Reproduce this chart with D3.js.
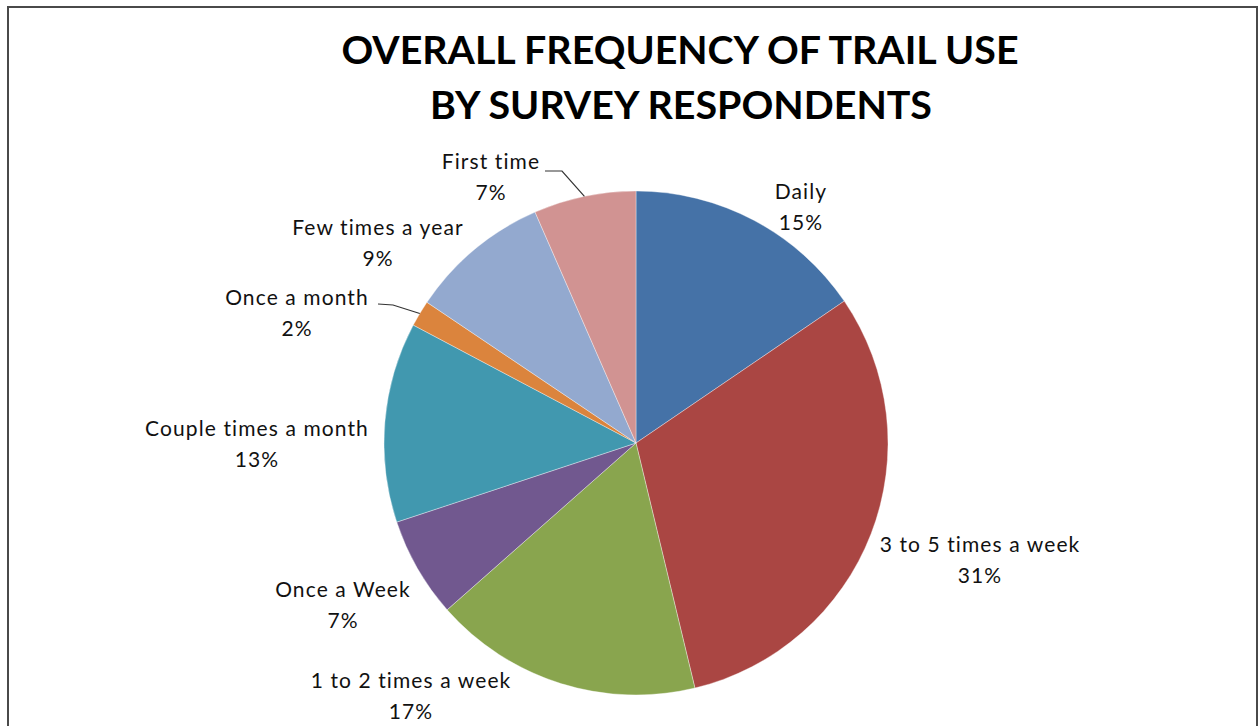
<!DOCTYPE html>
<html><head><meta charset="utf-8">
<script src="https://cdn.jsdelivr.net/npm/d3@7"></script>
<style>
html,body{margin:0;padding:0;background:#fff;}
svg{display:block;}
</style></head>
<body>
<svg id="chart" width="1259" height="726"></svg>
<script>
// ---- data ----
const categories = ["Daily","3 to 5 times a week","1 to 2 times a week","Once a Week","Couple times a month","Once a month","Few times a year","First time"];
const shares = [15.48, 30.76, 17.24, 6.43, 12.83, 1.68, 9.01, 6.56];
const percentLabels = ["15%","31%","17%","7%","13%","2%","9%","7%"];
const colors = ["#4572A7","#AA4643","#89A54E","#71588F","#4198AF","#DB843D","#93A9CF","#D19392"];
const titleLines = ["OVERALL FREQUENCY OF TRAIL USE","BY SURVEY RESPONDENTS"];

// ---- layout ----
const W = 1259, H = 726;
const cx = 636, cy = 443, R = 252;
// label anchor positions (center of first line) and optional leader-line bends
const labelPos = [
  {x: 801, y: 192},
  {x: 980, y: 545},
  {x: 411, y: 681},
  {x: 343, y: 590},
  {x: 257, y: 429},
  {x: 297, y: 298, leader: [[378,304],[393,305]]},
  {x: 378, y: 228},
  {x: 491, y: 162, leader: [[545,171],[562,171]]}
];

const svg = d3.select("#chart");

// frame
svg.append("rect").attr("x", 8).attr("y", 7).attr("width", 1249).attr("height", 740)
  .attr("fill", "#fff").attr("stroke", "#4a4a4a").attr("stroke-width", 2);

// title
const titleFont = "Lato, 'Open Sans', sans-serif";
const tl = [{t: titleLines[0], x: 680, y: 64, w: 677}, {t: titleLines[1], x: 681, y: 119, w: 502}];
svg.selectAll("text.title").data(tl).join("text")
  .attr("class","title")
  .attr("x", d => d.x).attr("y", d => d.y)
  .attr("text-anchor","middle")
  .attr("font-family", titleFont).attr("font-weight", "bold").attr("font-size", 39)
  .attr("fill", "#000")
  .attr("textLength", d => d.w).attr("lengthAdjust", "spacingAndGlyphs")
  .text(d => d.t);

// pie
const pie = d3.pie().sort(null).value(d => d).startAngle(0).endAngle(2*Math.PI);
const arcs = pie(shares);
const arc = d3.arc().innerRadius(0).outerRadius(R);
const edgeArc = d3.arc().innerRadius(R).outerRadius(R);

const g = svg.append("g").attr("transform", `translate(${cx},${cy})`);
g.selectAll("path.slice").data(arcs).join("path")
  .attr("class","slice")
  .attr("d", arc)
  .attr("fill", (d,i) => colors[i])
  .attr("stroke", "rgba(255,255,255,0.6)").attr("stroke-width", 0.6);

// leader lines
arcs.forEach((d, i) => {
  const lp = labelPos[i];
  if (!lp.leader) return;
  const e = edgeArc.centroid(d);
  const pts = lp.leader.concat([[cx + e[0], cy + e[1]]]);
  svg.append("path")
    .attr("d", d3.line()(pts))
    .attr("fill","none").attr("stroke","#333").attr("stroke-width",1.2);
});

// labels
const labelFont = "Lato, 'Open Sans', sans-serif";
const lab = svg.selectAll("g.lab").data(arcs).join("g").attr("class","lab");
lab.append("text")
  .attr("x", (d,i) => labelPos[i].x).attr("y", (d,i) => labelPos[i].y)
  .attr("dy","0.35em").attr("text-anchor","middle")
  .attr("font-family", labelFont).attr("font-size", 21).attr("letter-spacing", 1.1).attr("fill","#111")
  .text((d,i) => categories[i]);
lab.append("text")
  .attr("x", (d,i) => labelPos[i].x).attr("y", (d,i) => labelPos[i].y + 31)
  .attr("dy","0.35em").attr("text-anchor","middle")
  .attr("font-family", labelFont).attr("font-size", 21).attr("letter-spacing", 1.1).attr("fill","#111")
  .text((d,i) => percentLabels[i]);
</script>
</body></html>
